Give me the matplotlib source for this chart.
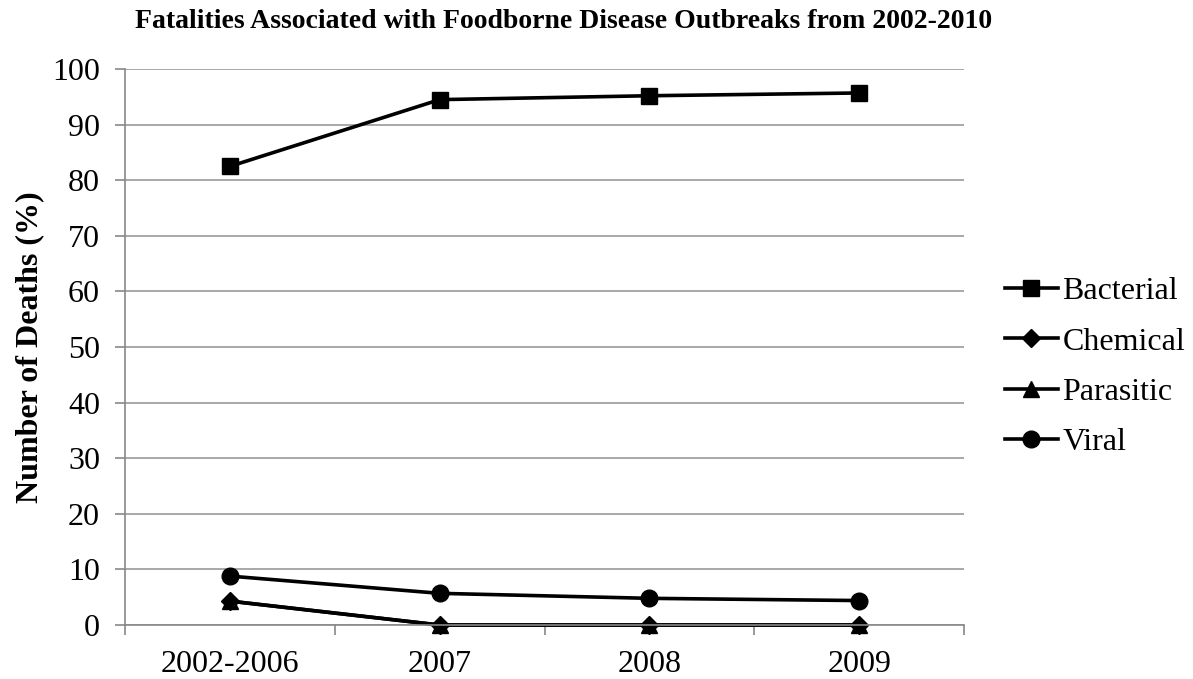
import matplotlib.pyplot as plt
import numpy as np

plt.rcParams['font.family'] = ['Liberation Serif', 'DejaVu Serif']

categories = ['2002-2006', '2007', '2008', '2009']
bacterial = [82.5, 94.5, 95.2, 95.7]
chemical = [4.3, 0, 0, 0]
parasitic = [4.3, 0, 0, 0]
viral = [8.8, 5.7, 4.8, 4.4]

x = np.arange(len(categories))

fig = plt.figure(figsize=(11.93, 6.79), dpi=100)
ax = fig.add_axes([0.1048, 0.0795, 0.7033, 0.8188])

ax.plot(x, bacterial, color='black', lw=2.6, marker='s', ms=11, label='Bacterial', clip_on=False)
ax.plot(x, chemical, color='black', lw=2.6, marker='D', ms=9, label='Chemical', clip_on=False)
ax.plot(x, parasitic, color='black', lw=2.6, marker='^', ms=11, label='Parasitic', clip_on=False)
ax.plot(x, viral, color='black', lw=2.6, marker='o', ms=12, label='Viral', clip_on=False)

ax.set_xlim(-0.5, len(categories) - 0.5)
ax.set_ylim(0, 100)
ax.set_yticks(range(0, 101, 10))
ax.set_xticks(x)
ax.set_xticklabels(categories)
ax.set_xticks(np.arange(-0.5, len(categories), 1), minor=True)
ax.tick_params(axis='x', which='major', length=0, labelsize=23, pad=18)
ax.tick_params(axis='x', which='minor', length=7, color='#888888', width=1.2)
ax.tick_params(axis='y', length=7, color='#888888', width=1.2, labelsize=23, pad=11)

ax.grid(axis='y', color='#999999', lw=1.2)
ax.set_axisbelow(True)
for s in ['top', 'right']:
    ax.spines[s].set_visible(False)
ax.spines['left'].set_color('#888888')
ax.spines['bottom'].set_color('#888888')
ax.spines['left'].set_linewidth(1.2)
ax.spines['bottom'].set_linewidth(1.2)

ax.set_ylabel('Number of Deaths (%)', fontsize=23, fontweight='bold', labelpad=6)
fig.suptitle('Fatalities Associated with Foodborne Disease Outbreaks from 2002-2010',
             fontsize=20, fontweight='bold', x=0.472, y=0.987)

fig.legend(*ax.get_legend_handles_labels(), loc='center left',
           bbox_to_anchor=(0.8424, 0.4595), frameon=False, fontsize=23,
           handlelength=1.65, handletextpad=0.15, labelspacing=0.65,
           borderaxespad=0, borderpad=0)

plt.savefig('out.png')
